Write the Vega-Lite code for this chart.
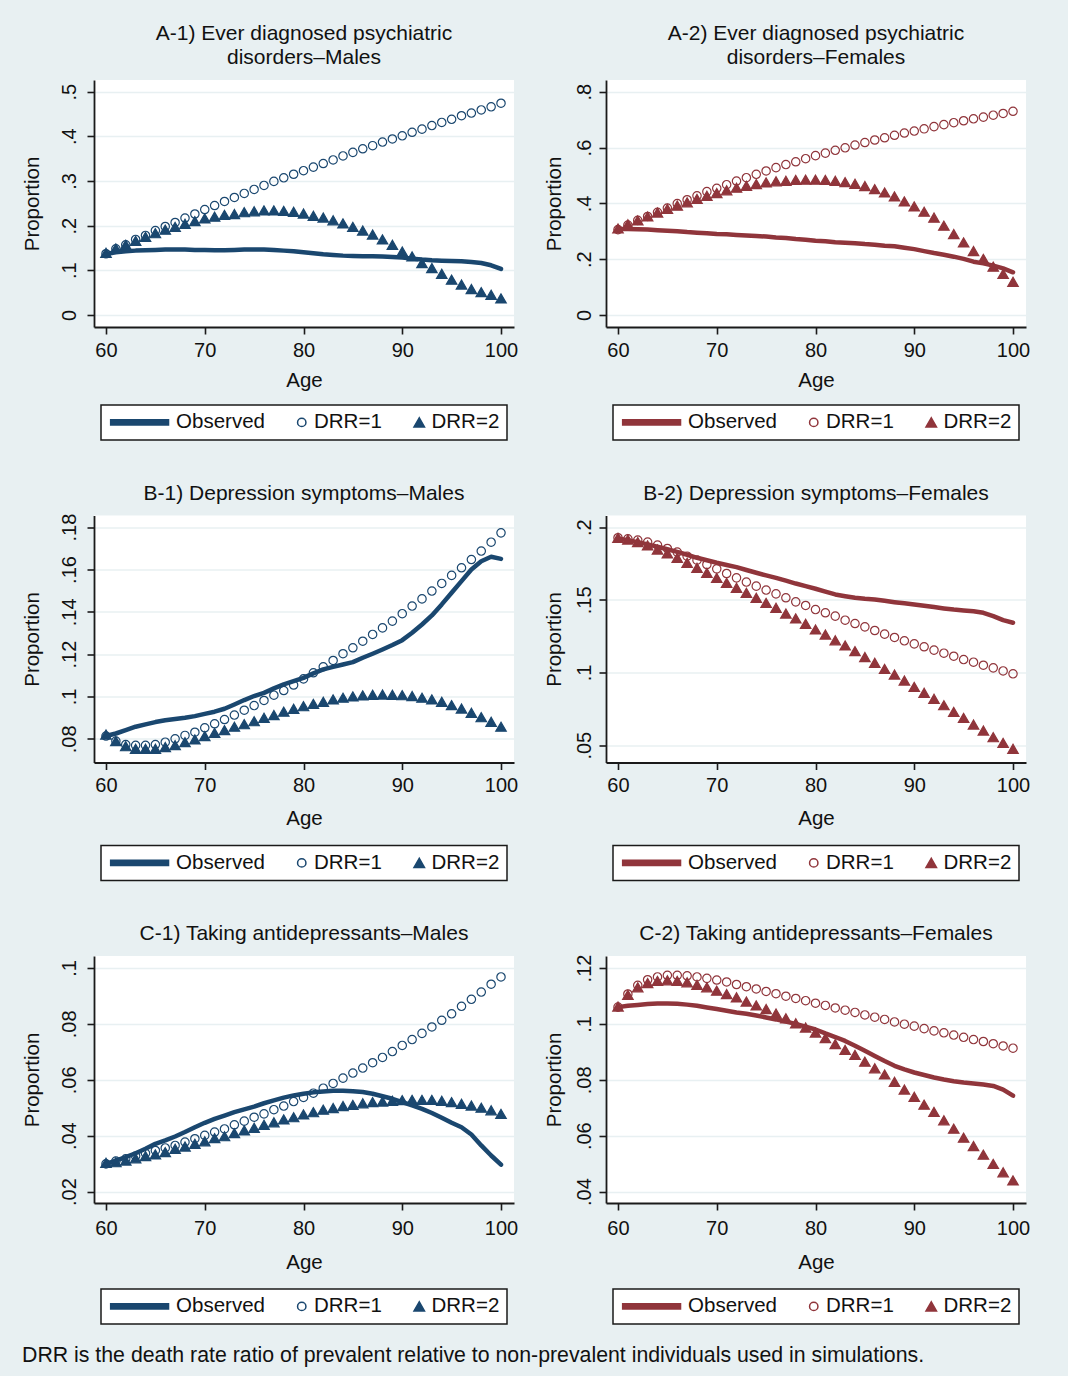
{
"$schema": "https://vega.github.io/schema/vega-lite/v6.json",
"background": "#E8F0F2",
"padding": {"left": 22, "right": 43, "top": 23, "bottom": 10},
"title": {"text": "DRR is the death rate ratio of prevalent relative to non-prevalent individuals used in simulations.", "orient": "bottom", "anchor": "start", "frame": "bounds", "fontSize": 21.3, "offset": 20},
"datasets": {
"A1": [
{"age":60,"series":"Observed","value":0.1366},{"age":61,"series":"Observed","value":0.1403},{"age":62,"series":"Observed","value":0.1425},{"age":63,"series":"Observed","value":0.1440},{"age":64,"series":"Observed","value":0.1448},{"age":65,"series":"Observed","value":0.1455},{"age":66,"series":"Observed","value":0.1463},{"age":67,"series":"Observed","value":0.1463},{"age":68,"series":"Observed","value":0.1463},{"age":69,"series":"Observed","value":0.1455},{"age":70,"series":"Observed","value":0.1455},{"age":71,"series":"Observed","value":0.1448},{"age":72,"series":"Observed","value":0.1448},{"age":73,"series":"Observed","value":0.1455},{"age":74,"series":"Observed","value":0.1463},{"age":75,"series":"Observed","value":0.1463},{"age":76,"series":"Observed","value":0.1463},{"age":77,"series":"Observed","value":0.1455},{"age":78,"series":"Observed","value":0.1440},{"age":79,"series":"Observed","value":0.1425},{"age":80,"series":"Observed","value":0.1403},{"age":81,"series":"Observed","value":0.1381},{"age":82,"series":"Observed","value":0.1358},{"age":83,"series":"Observed","value":0.1343},{"age":84,"series":"Observed","value":0.1328},{"age":85,"series":"Observed","value":0.1321},{"age":86,"series":"Observed","value":0.1313},{"age":87,"series":"Observed","value":0.1313},{"age":88,"series":"Observed","value":0.1306},{"age":89,"series":"Observed","value":0.1299},{"age":90,"series":"Observed","value":0.1284},{"age":91,"series":"Observed","value":0.1261},{"age":92,"series":"Observed","value":0.1239},{"age":93,"series":"Observed","value":0.1224},{"age":94,"series":"Observed","value":0.1216},{"age":95,"series":"Observed","value":0.1209},{"age":96,"series":"Observed","value":0.1201},{"age":97,"series":"Observed","value":0.1187},{"age":98,"series":"Observed","value":0.1164},{"age":99,"series":"Observed","value":0.1112},{"age":100,"series":"Observed","value":0.1030},
{"age":60,"series":"DRR=1","value":0.137},{"age":61,"series":"DRR=1","value":0.148},{"age":62,"series":"DRR=1","value":0.157},{"age":63,"series":"DRR=1","value":0.169},{"age":64,"series":"DRR=1","value":0.178},{"age":65,"series":"DRR=1","value":0.189},{"age":66,"series":"DRR=1","value":0.198},{"age":67,"series":"DRR=1","value":0.207},{"age":68,"series":"DRR=1","value":0.217},{"age":69,"series":"DRR=1","value":0.226},{"age":70,"series":"DRR=1","value":0.236},{"age":71,"series":"DRR=1","value":0.245},{"age":72,"series":"DRR=1","value":0.254},{"age":73,"series":"DRR=1","value":0.263},{"age":74,"series":"DRR=1","value":0.272},{"age":75,"series":"DRR=1","value":0.281},{"age":76,"series":"DRR=1","value":0.290},{"age":77,"series":"DRR=1","value":0.299},{"age":78,"series":"DRR=1","value":0.307},{"age":79,"series":"DRR=1","value":0.315},{"age":80,"series":"DRR=1","value":0.323},{"age":81,"series":"DRR=1","value":0.331},{"age":82,"series":"DRR=1","value":0.339},{"age":83,"series":"DRR=1","value":0.347},{"age":84,"series":"DRR=1","value":0.356},{"age":85,"series":"DRR=1","value":0.364},{"age":86,"series":"DRR=1","value":0.372},{"age":87,"series":"DRR=1","value":0.379},{"age":88,"series":"DRR=1","value":0.387},{"age":89,"series":"DRR=1","value":0.394},{"age":90,"series":"DRR=1","value":0.401},{"age":91,"series":"DRR=1","value":0.409},{"age":92,"series":"DRR=1","value":0.416},{"age":93,"series":"DRR=1","value":0.424},{"age":94,"series":"DRR=1","value":0.431},{"age":95,"series":"DRR=1","value":0.438},{"age":96,"series":"DRR=1","value":0.446},{"age":97,"series":"DRR=1","value":0.452},{"age":98,"series":"DRR=1","value":0.459},{"age":99,"series":"DRR=1","value":0.466},{"age":100,"series":"DRR=1","value":0.474},
{"age":60,"series":"DRR=2","value":0.139},{"age":61,"series":"DRR=2","value":0.149},{"age":62,"series":"DRR=2","value":0.157},{"age":63,"series":"DRR=2","value":0.166},{"age":64,"series":"DRR=2","value":0.175},{"age":65,"series":"DRR=2","value":0.183},{"age":66,"series":"DRR=2","value":0.191},{"age":67,"series":"DRR=2","value":0.197},{"age":68,"series":"DRR=2","value":0.204},{"age":69,"series":"DRR=2","value":0.210},{"age":70,"series":"DRR=2","value":0.216},{"age":71,"series":"DRR=2","value":0.220},{"age":72,"series":"DRR=2","value":0.224},{"age":73,"series":"DRR=2","value":0.226},{"age":74,"series":"DRR=2","value":0.230},{"age":75,"series":"DRR=2","value":0.232},{"age":76,"series":"DRR=2","value":0.234},{"age":77,"series":"DRR=2","value":0.234},{"age":78,"series":"DRR=2","value":0.233},{"age":79,"series":"DRR=2","value":0.231},{"age":80,"series":"DRR=2","value":0.227},{"age":81,"series":"DRR=2","value":0.222},{"age":82,"series":"DRR=2","value":0.218},{"age":83,"series":"DRR=2","value":0.212},{"age":84,"series":"DRR=2","value":0.205},{"age":85,"series":"DRR=2","value":0.197},{"age":86,"series":"DRR=2","value":0.189},{"age":87,"series":"DRR=2","value":0.180},{"age":88,"series":"DRR=2","value":0.169},{"age":89,"series":"DRR=2","value":0.157},{"age":90,"series":"DRR=2","value":0.142},{"age":91,"series":"DRR=2","value":0.131},{"age":92,"series":"DRR=2","value":0.116},{"age":93,"series":"DRR=2","value":0.105},{"age":94,"series":"DRR=2","value":0.092},{"age":95,"series":"DRR=2","value":0.079},{"age":96,"series":"DRR=2","value":0.068},{"age":97,"series":"DRR=2","value":0.058},{"age":98,"series":"DRR=2","value":0.051},{"age":99,"series":"DRR=2","value":0.045},{"age":100,"series":"DRR=2","value":0.037}
],
"A2": [
{"age":60,"series":"Observed","value":0.308},{"age":61,"series":"Observed","value":0.308},{"age":62,"series":"Observed","value":0.307},{"age":63,"series":"Observed","value":0.306},{"age":64,"series":"Observed","value":0.304},{"age":65,"series":"Observed","value":0.302},{"age":66,"series":"Observed","value":0.300},{"age":67,"series":"Observed","value":0.297},{"age":68,"series":"Observed","value":0.295},{"age":69,"series":"Observed","value":0.293},{"age":70,"series":"Observed","value":0.290},{"age":71,"series":"Observed","value":0.289},{"age":72,"series":"Observed","value":0.287},{"age":73,"series":"Observed","value":0.285},{"age":74,"series":"Observed","value":0.283},{"age":75,"series":"Observed","value":0.281},{"age":76,"series":"Observed","value":0.278},{"age":77,"series":"Observed","value":0.276},{"age":78,"series":"Observed","value":0.272},{"age":79,"series":"Observed","value":0.270},{"age":80,"series":"Observed","value":0.266},{"age":81,"series":"Observed","value":0.264},{"age":82,"series":"Observed","value":0.261},{"age":83,"series":"Observed","value":0.259},{"age":84,"series":"Observed","value":0.257},{"age":85,"series":"Observed","value":0.254},{"age":86,"series":"Observed","value":0.252},{"age":87,"series":"Observed","value":0.248},{"age":88,"series":"Observed","value":0.246},{"age":89,"series":"Observed","value":0.241},{"age":90,"series":"Observed","value":0.236},{"age":91,"series":"Observed","value":0.229},{"age":92,"series":"Observed","value":0.222},{"age":93,"series":"Observed","value":0.216},{"age":94,"series":"Observed","value":0.209},{"age":95,"series":"Observed","value":0.201},{"age":96,"series":"Observed","value":0.191},{"age":97,"series":"Observed","value":0.185},{"age":98,"series":"Observed","value":0.177},{"age":99,"series":"Observed","value":0.167},{"age":100,"series":"Observed","value":0.153},
{"age":60,"series":"DRR=1","value":0.306},{"age":61,"series":"DRR=1","value":0.322},{"age":62,"series":"DRR=1","value":0.339},{"age":63,"series":"DRR=1","value":0.353},{"age":64,"series":"DRR=1","value":0.368},{"age":65,"series":"DRR=1","value":0.383},{"age":66,"series":"DRR=1","value":0.399},{"age":67,"series":"DRR=1","value":0.413},{"age":68,"series":"DRR=1","value":0.427},{"age":69,"series":"DRR=1","value":0.442},{"age":70,"series":"DRR=1","value":0.454},{"age":71,"series":"DRR=1","value":0.467},{"age":72,"series":"DRR=1","value":0.480},{"age":73,"series":"DRR=1","value":0.492},{"age":74,"series":"DRR=1","value":0.504},{"age":75,"series":"DRR=1","value":0.516},{"age":76,"series":"DRR=1","value":0.528},{"age":77,"series":"DRR=1","value":0.539},{"age":78,"series":"DRR=1","value":0.549},{"age":79,"series":"DRR=1","value":0.560},{"age":80,"series":"DRR=1","value":0.571},{"age":81,"series":"DRR=1","value":0.580},{"age":82,"series":"DRR=1","value":0.590},{"age":83,"series":"DRR=1","value":0.599},{"age":84,"series":"DRR=1","value":0.609},{"age":85,"series":"DRR=1","value":0.618},{"age":86,"series":"DRR=1","value":0.627},{"age":87,"series":"DRR=1","value":0.635},{"age":88,"series":"DRR=1","value":0.644},{"age":89,"series":"DRR=1","value":0.652},{"age":90,"series":"DRR=1","value":0.659},{"age":91,"series":"DRR=1","value":0.667},{"age":92,"series":"DRR=1","value":0.675},{"age":93,"series":"DRR=1","value":0.682},{"age":94,"series":"DRR=1","value":0.689},{"age":95,"series":"DRR=1","value":0.696},{"age":96,"series":"DRR=1","value":0.703},{"age":97,"series":"DRR=1","value":0.709},{"age":98,"series":"DRR=1","value":0.716},{"age":99,"series":"DRR=1","value":0.722},{"age":100,"series":"DRR=1","value":0.730},
{"age":60,"series":"DRR=2","value":0.310},{"age":61,"series":"DRR=2","value":0.325},{"age":62,"series":"DRR=2","value":0.339},{"age":63,"series":"DRR=2","value":0.353},{"age":64,"series":"DRR=2","value":0.367},{"age":65,"series":"DRR=2","value":0.380},{"age":66,"series":"DRR=2","value":0.392},{"age":67,"series":"DRR=2","value":0.404},{"age":68,"series":"DRR=2","value":0.416},{"age":69,"series":"DRR=2","value":0.427},{"age":70,"series":"DRR=2","value":0.437},{"age":71,"series":"DRR=2","value":0.447},{"age":72,"series":"DRR=2","value":0.456},{"age":73,"series":"DRR=2","value":0.463},{"age":74,"series":"DRR=2","value":0.469},{"age":75,"series":"DRR=2","value":0.475},{"age":76,"series":"DRR=2","value":0.479},{"age":77,"series":"DRR=2","value":0.481},{"age":78,"series":"DRR=2","value":0.484},{"age":79,"series":"DRR=2","value":0.485},{"age":80,"series":"DRR=2","value":0.485},{"age":81,"series":"DRR=2","value":0.484},{"age":82,"series":"DRR=2","value":0.481},{"age":83,"series":"DRR=2","value":0.476},{"age":84,"series":"DRR=2","value":0.470},{"age":85,"series":"DRR=2","value":0.462},{"age":86,"series":"DRR=2","value":0.451},{"age":87,"series":"DRR=2","value":0.439},{"age":88,"series":"DRR=2","value":0.425},{"age":89,"series":"DRR=2","value":0.407},{"age":90,"series":"DRR=2","value":0.389},{"age":91,"series":"DRR=2","value":0.370},{"age":92,"series":"DRR=2","value":0.349},{"age":93,"series":"DRR=2","value":0.320},{"age":94,"series":"DRR=2","value":0.290},{"age":95,"series":"DRR=2","value":0.260},{"age":96,"series":"DRR=2","value":0.229},{"age":97,"series":"DRR=2","value":0.201},{"age":98,"series":"DRR=2","value":0.173},{"age":99,"series":"DRR=2","value":0.147},{"age":100,"series":"DRR=2","value":0.119}
],
"B1": [
{"age":60,"series":"Observed","value":0.0813},{"age":61,"series":"Observed","value":0.0825},{"age":62,"series":"Observed","value":0.0841},{"age":63,"series":"Observed","value":0.0857},{"age":64,"series":"Observed","value":0.0868},{"age":65,"series":"Observed","value":0.0879},{"age":66,"series":"Observed","value":0.0888},{"age":67,"series":"Observed","value":0.0894},{"age":68,"series":"Observed","value":0.0899},{"age":69,"series":"Observed","value":0.0907},{"age":70,"series":"Observed","value":0.0918},{"age":71,"series":"Observed","value":0.0928},{"age":72,"series":"Observed","value":0.0942},{"age":73,"series":"Observed","value":0.0962},{"age":74,"series":"Observed","value":0.0983},{"age":75,"series":"Observed","value":0.1002},{"age":76,"series":"Observed","value":0.1017},{"age":77,"series":"Observed","value":0.1038},{"age":78,"series":"Observed","value":0.1057},{"age":79,"series":"Observed","value":0.1072},{"age":80,"series":"Observed","value":0.1088},{"age":81,"series":"Observed","value":0.1109},{"age":82,"series":"Observed","value":0.1128},{"age":83,"series":"Observed","value":0.1140},{"age":84,"series":"Observed","value":0.1151},{"age":85,"series":"Observed","value":0.1162},{"age":86,"series":"Observed","value":0.1183},{"age":87,"series":"Observed","value":0.1202},{"age":88,"series":"Observed","value":0.1222},{"age":89,"series":"Observed","value":0.1243},{"age":90,"series":"Observed","value":0.1266},{"age":91,"series":"Observed","value":0.1301},{"age":92,"series":"Observed","value":0.1340},{"age":93,"series":"Observed","value":0.1383},{"age":94,"series":"Observed","value":0.1435},{"age":95,"series":"Observed","value":0.1490},{"age":96,"series":"Observed","value":0.1545},{"age":97,"series":"Observed","value":0.1600},{"age":98,"series":"Observed","value":0.1639},{"age":99,"series":"Observed","value":0.1660},{"age":100,"series":"Observed","value":0.1650},
{"age":60,"series":"DRR=1","value":0.0813},{"age":61,"series":"DRR=1","value":0.0789},{"age":62,"series":"DRR=1","value":0.0773},{"age":63,"series":"DRR=1","value":0.0769},{"age":64,"series":"DRR=1","value":0.0769},{"age":65,"series":"DRR=1","value":0.0773},{"age":66,"series":"DRR=1","value":0.0784},{"age":67,"series":"DRR=1","value":0.0800},{"age":68,"series":"DRR=1","value":0.0816},{"age":69,"series":"DRR=1","value":0.0831},{"age":70,"series":"DRR=1","value":0.0852},{"age":71,"series":"DRR=1","value":0.0871},{"age":72,"series":"DRR=1","value":0.0891},{"age":73,"series":"DRR=1","value":0.0912},{"age":74,"series":"DRR=1","value":0.0935},{"age":75,"series":"DRR=1","value":0.0957},{"age":76,"series":"DRR=1","value":0.0981},{"age":77,"series":"DRR=1","value":0.1006},{"age":78,"series":"DRR=1","value":0.1028},{"age":79,"series":"DRR=1","value":0.1054},{"age":80,"series":"DRR=1","value":0.1083},{"age":81,"series":"DRR=1","value":0.1112},{"age":82,"series":"DRR=1","value":0.1140},{"age":83,"series":"DRR=1","value":0.1170},{"age":84,"series":"DRR=1","value":0.1202},{"age":85,"series":"DRR=1","value":0.1230},{"age":86,"series":"DRR=1","value":0.1261},{"age":87,"series":"DRR=1","value":0.1293},{"age":88,"series":"DRR=1","value":0.1324},{"age":89,"series":"DRR=1","value":0.1356},{"age":90,"series":"DRR=1","value":0.1391},{"age":91,"series":"DRR=1","value":0.1427},{"age":92,"series":"DRR=1","value":0.1461},{"age":93,"series":"DRR=1","value":0.1498},{"age":94,"series":"DRR=1","value":0.1534},{"age":95,"series":"DRR=1","value":0.1572},{"age":96,"series":"DRR=1","value":0.1608},{"age":97,"series":"DRR=1","value":0.1647},{"age":98,"series":"DRR=1","value":0.1687},{"age":99,"series":"DRR=1","value":0.1729},{"age":100,"series":"DRR=1","value":0.1773},
{"age":60,"series":"DRR=2","value":0.0820},{"age":61,"series":"DRR=2","value":0.0789},{"age":62,"series":"DRR=2","value":0.0765},{"age":63,"series":"DRR=2","value":0.0753},{"age":64,"series":"DRR=2","value":0.0753},{"age":65,"series":"DRR=2","value":0.0753},{"age":66,"series":"DRR=2","value":0.0761},{"age":67,"series":"DRR=2","value":0.0770},{"age":68,"series":"DRR=2","value":0.0784},{"age":69,"series":"DRR=2","value":0.0797},{"age":70,"series":"DRR=2","value":0.0813},{"age":71,"series":"DRR=2","value":0.0828},{"age":72,"series":"DRR=2","value":0.0841},{"age":73,"series":"DRR=2","value":0.0857},{"age":74,"series":"DRR=2","value":0.0869},{"age":75,"series":"DRR=2","value":0.0883},{"age":76,"series":"DRR=2","value":0.0899},{"age":77,"series":"DRR=2","value":0.0912},{"age":78,"series":"DRR=2","value":0.0928},{"age":79,"series":"DRR=2","value":0.0942},{"age":80,"series":"DRR=2","value":0.0954},{"age":81,"series":"DRR=2","value":0.0965},{"age":82,"series":"DRR=2","value":0.0975},{"age":83,"series":"DRR=2","value":0.0986},{"age":84,"series":"DRR=2","value":0.0994},{"age":85,"series":"DRR=2","value":0.1000},{"age":86,"series":"DRR=2","value":0.1005},{"age":87,"series":"DRR=2","value":0.1008},{"age":88,"series":"DRR=2","value":0.1009},{"age":89,"series":"DRR=2","value":0.1008},{"age":90,"series":"DRR=2","value":0.1006},{"age":91,"series":"DRR=2","value":0.1002},{"age":92,"series":"DRR=2","value":0.0994},{"age":93,"series":"DRR=2","value":0.0986},{"age":94,"series":"DRR=2","value":0.0975},{"age":95,"series":"DRR=2","value":0.0959},{"age":96,"series":"DRR=2","value":0.0943},{"age":97,"series":"DRR=2","value":0.0923},{"age":98,"series":"DRR=2","value":0.0902},{"age":99,"series":"DRR=2","value":0.0880},{"age":100,"series":"DRR=2","value":0.0857}
],
"B2": [
{"age":60,"series":"Observed","value":0.1922},{"age":61,"series":"Observed","value":0.1910},{"age":62,"series":"Observed","value":0.1897},{"age":63,"series":"Observed","value":0.1881},{"age":64,"series":"Observed","value":0.1865},{"age":65,"series":"Observed","value":0.1848},{"age":66,"series":"Observed","value":0.1830},{"age":67,"series":"Observed","value":0.1810},{"age":68,"series":"Observed","value":0.1789},{"age":69,"series":"Observed","value":0.1772},{"age":70,"series":"Observed","value":0.1755},{"age":71,"series":"Observed","value":0.1740},{"age":72,"series":"Observed","value":0.1725},{"age":73,"series":"Observed","value":0.1705},{"age":74,"series":"Observed","value":0.1686},{"age":75,"series":"Observed","value":0.1668},{"age":76,"series":"Observed","value":0.1651},{"age":77,"series":"Observed","value":0.1632},{"age":78,"series":"Observed","value":0.1612},{"age":79,"series":"Observed","value":0.1594},{"age":80,"series":"Observed","value":0.1576},{"age":81,"series":"Observed","value":0.1556},{"age":82,"series":"Observed","value":0.1537},{"age":83,"series":"Observed","value":0.1525},{"age":84,"series":"Observed","value":0.1514},{"age":85,"series":"Observed","value":0.1507},{"age":86,"series":"Observed","value":0.1502},{"age":87,"series":"Observed","value":0.1493},{"age":88,"series":"Observed","value":0.1484},{"age":89,"series":"Observed","value":0.1476},{"age":90,"series":"Observed","value":0.1468},{"age":91,"series":"Observed","value":0.1459},{"age":92,"series":"Observed","value":0.1450},{"age":93,"series":"Observed","value":0.1441},{"age":94,"series":"Observed","value":0.1433},{"age":95,"series":"Observed","value":0.1427},{"age":96,"series":"Observed","value":0.1422},{"age":97,"series":"Observed","value":0.1411},{"age":98,"series":"Observed","value":0.1388},{"age":99,"series":"Observed","value":0.1360},{"age":100,"series":"Observed","value":0.1342},
{"age":60,"series":"DRR=1","value":0.1927},{"age":61,"series":"DRR=1","value":0.1920},{"age":62,"series":"DRR=1","value":0.1911},{"age":63,"series":"DRR=1","value":0.1897},{"age":64,"series":"DRR=1","value":0.1876},{"age":65,"series":"DRR=1","value":0.1853},{"age":66,"series":"DRR=1","value":0.1828},{"age":67,"series":"DRR=1","value":0.1800},{"age":68,"series":"DRR=1","value":0.1773},{"age":69,"series":"DRR=1","value":0.1743},{"age":70,"series":"DRR=1","value":0.1713},{"age":71,"series":"DRR=1","value":0.1681},{"age":72,"series":"DRR=1","value":0.1651},{"age":73,"series":"DRR=1","value":0.1622},{"age":74,"series":"DRR=1","value":0.1594},{"age":75,"series":"DRR=1","value":0.1567},{"age":76,"series":"DRR=1","value":0.1541},{"age":77,"series":"DRR=1","value":0.1514},{"age":78,"series":"DRR=1","value":0.1486},{"age":79,"series":"DRR=1","value":0.1461},{"age":80,"series":"DRR=1","value":0.1433},{"age":81,"series":"DRR=1","value":0.1411},{"age":82,"series":"DRR=1","value":0.1388},{"age":83,"series":"DRR=1","value":0.1360},{"age":84,"series":"DRR=1","value":0.1337},{"age":85,"series":"DRR=1","value":0.1314},{"age":86,"series":"DRR=1","value":0.1289},{"age":87,"series":"DRR=1","value":0.1264},{"age":88,"series":"DRR=1","value":0.1241},{"age":89,"series":"DRR=1","value":0.1218},{"age":90,"series":"DRR=1","value":0.1197},{"age":91,"series":"DRR=1","value":0.1177},{"age":92,"series":"DRR=1","value":0.1154},{"age":93,"series":"DRR=1","value":0.1133},{"age":94,"series":"DRR=1","value":0.1112},{"age":95,"series":"DRR=1","value":0.1089},{"age":96,"series":"DRR=1","value":0.1071},{"age":97,"series":"DRR=1","value":0.1050},{"age":98,"series":"DRR=1","value":0.1032},{"age":99,"series":"DRR=1","value":0.1011},{"age":100,"series":"DRR=1","value":0.0991},
{"age":60,"series":"DRR=2","value":0.1927},{"age":61,"series":"DRR=2","value":0.1915},{"age":62,"series":"DRR=2","value":0.1897},{"age":63,"series":"DRR=2","value":0.1874},{"age":64,"series":"DRR=2","value":0.1846},{"age":65,"series":"DRR=2","value":0.1819},{"age":66,"series":"DRR=2","value":0.1789},{"age":67,"series":"DRR=2","value":0.1755},{"age":68,"series":"DRR=2","value":0.1720},{"age":69,"series":"DRR=2","value":0.1686},{"age":70,"series":"DRR=2","value":0.1651},{"age":71,"series":"DRR=2","value":0.1617},{"age":72,"series":"DRR=2","value":0.1583},{"age":73,"series":"DRR=2","value":0.1548},{"age":74,"series":"DRR=2","value":0.1514},{"age":75,"series":"DRR=2","value":0.1479},{"age":76,"series":"DRR=2","value":0.1445},{"age":77,"series":"DRR=2","value":0.1406},{"age":78,"series":"DRR=2","value":0.1372},{"age":79,"series":"DRR=2","value":0.1335},{"age":80,"series":"DRR=2","value":0.1296},{"age":81,"series":"DRR=2","value":0.1261},{"age":82,"series":"DRR=2","value":0.1222},{"age":83,"series":"DRR=2","value":0.1186},{"age":84,"series":"DRR=2","value":0.1147},{"age":85,"series":"DRR=2","value":0.1106},{"age":86,"series":"DRR=2","value":0.1067},{"age":87,"series":"DRR=2","value":0.1025},{"age":88,"series":"DRR=2","value":0.0986},{"age":89,"series":"DRR=2","value":0.0945},{"age":90,"series":"DRR=2","value":0.0901},{"age":91,"series":"DRR=2","value":0.0860},{"age":92,"series":"DRR=2","value":0.0819},{"age":93,"series":"DRR=2","value":0.0775},{"age":94,"series":"DRR=2","value":0.0729},{"age":95,"series":"DRR=2","value":0.0688},{"age":96,"series":"DRR=2","value":0.0642},{"age":97,"series":"DRR=2","value":0.0601},{"age":98,"series":"DRR=2","value":0.0555},{"age":99,"series":"DRR=2","value":0.0516},{"age":100,"series":"DRR=2","value":0.0475}
],
"C1": [
{"age":60,"series":"Observed","value":0.0299},{"age":61,"series":"Observed","value":0.0311},{"age":62,"series":"Observed","value":0.0323},{"age":63,"series":"Observed","value":0.0337},{"age":64,"series":"Observed","value":0.0353},{"age":65,"series":"Observed","value":0.0371},{"age":66,"series":"Observed","value":0.0383},{"age":67,"series":"Observed","value":0.0397},{"age":68,"series":"Observed","value":0.0413},{"age":69,"series":"Observed","value":0.0430},{"age":70,"series":"Observed","value":0.0446},{"age":71,"series":"Observed","value":0.0460},{"age":72,"series":"Observed","value":0.0472},{"age":73,"series":"Observed","value":0.0484},{"age":74,"series":"Observed","value":0.0494},{"age":75,"series":"Observed","value":0.0504},{"age":76,"series":"Observed","value":0.0516},{"age":77,"series":"Observed","value":0.0526},{"age":78,"series":"Observed","value":0.0536},{"age":79,"series":"Observed","value":0.0544},{"age":80,"series":"Observed","value":0.0550},{"age":81,"series":"Observed","value":0.0555},{"age":82,"series":"Observed","value":0.0558},{"age":83,"series":"Observed","value":0.0561},{"age":84,"series":"Observed","value":0.0561},{"age":85,"series":"Observed","value":0.0559},{"age":86,"series":"Observed","value":0.0556},{"age":87,"series":"Observed","value":0.0550},{"age":88,"series":"Observed","value":0.0541},{"age":89,"series":"Observed","value":0.0532},{"age":90,"series":"Observed","value":0.0520},{"age":91,"series":"Observed","value":0.0508},{"age":92,"series":"Observed","value":0.0496},{"age":93,"series":"Observed","value":0.0481},{"age":94,"series":"Observed","value":0.0464},{"age":95,"series":"Observed","value":0.0446},{"age":96,"series":"Observed","value":0.0430},{"age":97,"series":"Observed","value":0.0404},{"age":98,"series":"Observed","value":0.0365},{"age":99,"series":"Observed","value":0.0329},{"age":100,"series":"Observed","value":0.0296},
{"age":60,"series":"DRR=1","value":0.0299},{"age":61,"series":"DRR=1","value":0.0309},{"age":62,"series":"DRR=1","value":0.0317},{"age":63,"series":"DRR=1","value":0.0327},{"age":64,"series":"DRR=1","value":0.0337},{"age":65,"series":"DRR=1","value":0.0347},{"age":66,"series":"DRR=1","value":0.0356},{"age":67,"series":"DRR=1","value":0.0365},{"age":68,"series":"DRR=1","value":0.0377},{"age":69,"series":"DRR=1","value":0.0389},{"age":70,"series":"DRR=1","value":0.0401},{"age":71,"series":"DRR=1","value":0.0413},{"age":72,"series":"DRR=1","value":0.0424},{"age":73,"series":"DRR=1","value":0.0439},{"age":74,"series":"DRR=1","value":0.0452},{"age":75,"series":"DRR=1","value":0.0466},{"age":76,"series":"DRR=1","value":0.0478},{"age":77,"series":"DRR=1","value":0.0493},{"age":78,"series":"DRR=1","value":0.0506},{"age":79,"series":"DRR=1","value":0.0522},{"age":80,"series":"DRR=1","value":0.0537},{"age":81,"series":"DRR=1","value":0.0552},{"age":82,"series":"DRR=1","value":0.0570},{"age":83,"series":"DRR=1","value":0.0587},{"age":84,"series":"DRR=1","value":0.0606},{"age":85,"series":"DRR=1","value":0.0624},{"age":86,"series":"DRR=1","value":0.0642},{"age":87,"series":"DRR=1","value":0.0661},{"age":88,"series":"DRR=1","value":0.0680},{"age":89,"series":"DRR=1","value":0.0701},{"age":90,"series":"DRR=1","value":0.0723},{"age":91,"series":"DRR=1","value":0.0744},{"age":92,"series":"DRR=1","value":0.0766},{"age":93,"series":"DRR=1","value":0.0789},{"age":94,"series":"DRR=1","value":0.0813},{"age":95,"series":"DRR=1","value":0.0836},{"age":96,"series":"DRR=1","value":0.0863},{"age":97,"series":"DRR=1","value":0.0888},{"age":98,"series":"DRR=1","value":0.0914},{"age":99,"series":"DRR=1","value":0.0942},{"age":100,"series":"DRR=1","value":0.0968},
{"age":60,"series":"DRR=2","value":0.0303},{"age":61,"series":"DRR=2","value":0.0305},{"age":62,"series":"DRR=2","value":0.0311},{"age":63,"series":"DRR=2","value":0.0319},{"age":64,"series":"DRR=2","value":0.0327},{"age":65,"series":"DRR=2","value":0.0333},{"age":66,"series":"DRR=2","value":0.0341},{"age":67,"series":"DRR=2","value":0.0353},{"age":68,"series":"DRR=2","value":0.0361},{"age":69,"series":"DRR=2","value":0.0371},{"age":70,"series":"DRR=2","value":0.0380},{"age":71,"series":"DRR=2","value":0.0391},{"age":72,"series":"DRR=2","value":0.0398},{"age":73,"series":"DRR=2","value":0.0409},{"age":74,"series":"DRR=2","value":0.0419},{"age":75,"series":"DRR=2","value":0.0428},{"age":76,"series":"DRR=2","value":0.0439},{"age":77,"series":"DRR=2","value":0.0448},{"age":78,"series":"DRR=2","value":0.0458},{"age":79,"series":"DRR=2","value":0.0466},{"age":80,"series":"DRR=2","value":0.0476},{"age":81,"series":"DRR=2","value":0.0484},{"age":82,"series":"DRR=2","value":0.0493},{"age":83,"series":"DRR=2","value":0.0499},{"age":84,"series":"DRR=2","value":0.0506},{"age":85,"series":"DRR=2","value":0.0510},{"age":86,"series":"DRR=2","value":0.0516},{"age":87,"series":"DRR=2","value":0.0520},{"age":88,"series":"DRR=2","value":0.0522},{"age":89,"series":"DRR=2","value":0.0525},{"age":90,"series":"DRR=2","value":0.0527},{"age":91,"series":"DRR=2","value":0.0528},{"age":92,"series":"DRR=2","value":0.0528},{"age":93,"series":"DRR=2","value":0.0528},{"age":94,"series":"DRR=2","value":0.0525},{"age":95,"series":"DRR=2","value":0.0520},{"age":96,"series":"DRR=2","value":0.0514},{"age":97,"series":"DRR=2","value":0.0508},{"age":98,"series":"DRR=2","value":0.0500},{"age":99,"series":"DRR=2","value":0.0491},{"age":100,"series":"DRR=2","value":0.0478}
],
"C2": [
{"age":60,"series":"Observed","value":0.1060},{"age":61,"series":"Observed","value":0.1065},{"age":62,"series":"Observed","value":0.1068},{"age":63,"series":"Observed","value":0.1071},{"age":64,"series":"Observed","value":0.1073},{"age":65,"series":"Observed","value":0.1073},{"age":66,"series":"Observed","value":0.1072},{"age":67,"series":"Observed","value":0.1069},{"age":68,"series":"Observed","value":0.1065},{"age":69,"series":"Observed","value":0.1059},{"age":70,"series":"Observed","value":0.1053},{"age":71,"series":"Observed","value":0.1047},{"age":72,"series":"Observed","value":0.1041},{"age":73,"series":"Observed","value":0.1036},{"age":74,"series":"Observed","value":0.1030},{"age":75,"series":"Observed","value":0.1023},{"age":76,"series":"Observed","value":0.1016},{"age":77,"series":"Observed","value":0.1008},{"age":78,"series":"Observed","value":0.1000},{"age":79,"series":"Observed","value":0.0990},{"age":80,"series":"Observed","value":0.0980},{"age":81,"series":"Observed","value":0.0966},{"age":82,"series":"Observed","value":0.0953},{"age":83,"series":"Observed","value":0.0939},{"age":84,"series":"Observed","value":0.0922},{"age":85,"series":"Observed","value":0.0904},{"age":86,"series":"Observed","value":0.0885},{"age":87,"series":"Observed","value":0.0867},{"age":88,"series":"Observed","value":0.0850},{"age":89,"series":"Observed","value":0.0837},{"age":90,"series":"Observed","value":0.0826},{"age":91,"series":"Observed","value":0.0817},{"age":92,"series":"Observed","value":0.0808},{"age":93,"series":"Observed","value":0.0801},{"age":94,"series":"Observed","value":0.0795},{"age":95,"series":"Observed","value":0.0790},{"age":96,"series":"Observed","value":0.0787},{"age":97,"series":"Observed","value":0.0783},{"age":98,"series":"Observed","value":0.0778},{"age":99,"series":"Observed","value":0.0765},{"age":100,"series":"Observed","value":0.0743},
{"age":60,"series":"DRR=1","value":0.1060},{"age":61,"series":"DRR=1","value":0.1107},{"age":62,"series":"DRR=1","value":0.1138},{"age":63,"series":"DRR=1","value":0.1158},{"age":64,"series":"DRR=1","value":0.1168},{"age":65,"series":"DRR=1","value":0.1174},{"age":66,"series":"DRR=1","value":0.1174},{"age":67,"series":"DRR=1","value":0.1172},{"age":68,"series":"DRR=1","value":0.1168},{"age":69,"series":"DRR=1","value":0.1163},{"age":70,"series":"DRR=1","value":0.1157},{"age":71,"series":"DRR=1","value":0.1150},{"age":72,"series":"DRR=1","value":0.1141},{"age":73,"series":"DRR=1","value":0.1133},{"age":74,"series":"DRR=1","value":0.1125},{"age":75,"series":"DRR=1","value":0.1116},{"age":76,"series":"DRR=1","value":0.1108},{"age":77,"series":"DRR=1","value":0.1099},{"age":78,"series":"DRR=1","value":0.1091},{"age":79,"series":"DRR=1","value":0.1083},{"age":80,"series":"DRR=1","value":0.1074},{"age":81,"series":"DRR=1","value":0.1066},{"age":82,"series":"DRR=1","value":0.1057},{"age":83,"series":"DRR=1","value":0.1049},{"age":84,"series":"DRR=1","value":0.1041},{"age":85,"series":"DRR=1","value":0.1032},{"age":86,"series":"DRR=1","value":0.1024},{"age":87,"series":"DRR=1","value":0.1016},{"age":88,"series":"DRR=1","value":0.1007},{"age":89,"series":"DRR=1","value":0.0999},{"age":90,"series":"DRR=1","value":0.0992},{"age":91,"series":"DRR=1","value":0.0983},{"age":92,"series":"DRR=1","value":0.0975},{"age":93,"series":"DRR=1","value":0.0968},{"age":94,"series":"DRR=1","value":0.0960},{"age":95,"series":"DRR=1","value":0.0952},{"age":96,"series":"DRR=1","value":0.0944},{"age":97,"series":"DRR=1","value":0.0937},{"age":98,"series":"DRR=1","value":0.0929},{"age":99,"series":"DRR=1","value":0.0921},{"age":100,"series":"DRR=1","value":0.0913},
{"age":60,"series":"DRR=2","value":0.1062},{"age":61,"series":"DRR=2","value":0.1104},{"age":62,"series":"DRR=2","value":0.1131},{"age":63,"series":"DRR=2","value":0.1146},{"age":64,"series":"DRR=2","value":0.1154},{"age":65,"series":"DRR=2","value":0.1156},{"age":66,"series":"DRR=2","value":0.1154},{"age":67,"series":"DRR=2","value":0.1149},{"age":68,"series":"DRR=2","value":0.1140},{"age":69,"series":"DRR=2","value":0.1131},{"age":70,"series":"DRR=2","value":0.1119},{"age":71,"series":"DRR=2","value":0.1107},{"age":72,"series":"DRR=2","value":0.1095},{"age":73,"series":"DRR=2","value":0.1080},{"age":74,"series":"DRR=2","value":0.1066},{"age":75,"series":"DRR=2","value":0.1053},{"age":76,"series":"DRR=2","value":0.1037},{"age":77,"series":"DRR=2","value":0.1020},{"age":78,"series":"DRR=2","value":0.1002},{"age":79,"series":"DRR=2","value":0.0987},{"age":80,"series":"DRR=2","value":0.0969},{"age":81,"series":"DRR=2","value":0.0949},{"age":82,"series":"DRR=2","value":0.0928},{"age":83,"series":"DRR=2","value":0.0907},{"age":84,"series":"DRR=2","value":0.0889},{"age":85,"series":"DRR=2","value":0.0865},{"age":86,"series":"DRR=2","value":0.0841},{"age":87,"series":"DRR=2","value":0.0819},{"age":88,"series":"DRR=2","value":0.0793},{"age":89,"series":"DRR=2","value":0.0765},{"age":90,"series":"DRR=2","value":0.0739},{"age":91,"series":"DRR=2","value":0.0711},{"age":92,"series":"DRR=2","value":0.0685},{"age":93,"series":"DRR=2","value":0.0655},{"age":94,"series":"DRR=2","value":0.0625},{"age":95,"series":"DRR=2","value":0.0593},{"age":96,"series":"DRR=2","value":0.0563},{"age":97,"series":"DRR=2","value":0.0532},{"age":98,"series":"DRR=2","value":0.0499},{"age":99,"series":"DRR=2","value":0.0469},{"age":100,"series":"DRR=2","value":0.0440}
]
},
"spacing": 41.5,
"resolve": {"scale": {"shape": "independent", "fill": "independent", "stroke": "independent", "size": "independent"}},
"vconcat": [
{"spacing": 26,
 "resolve": {"scale": {"shape": "independent", "fill": "independent", "stroke": "independent", "size": "independent"}},
 "hconcat": [
 {"data": {"name": "A1"}, "width": 420, "height": 247,
  "title": {"text": ["A-1) Ever diagnosed psychiatric", "disorders–Males"]},
  "encoding": {
   "x": {"field": "age", "type": "quantitative", "scale": {"domain": [58.785, 101.316], "nice": false, "zero": false}, "axis": {"values": [60,70,80,90,100], "title": "Age", "labelPadding": 6, "titlePadding": 10}},
   "y": {"field": "value", "type": "quantitative", "scale": {"domain": [-0.027, 0.526], "nice": false, "zero": false}, "axis": {"values": [0,0.1,0.2,0.3,0.4,0.5], "labelExpr": "datum.value == 0 ? '0' : substring(format(datum.value, '.2~f'), 1)", "title": "Proportion", "titlePadding": 17, "labelPadding": 8}}
  },
  "layer": [
   {"transform": [{"filter": "datum.series !== 'Observed'"}],
    "mark": {"type": "point", "opacity": 1, "strokeWidth": 1.2},
    "encoding": {
     "shape": {"field": "series", "type": "nominal", "scale": {"domain": ["Observed","DRR=1","DRR=2"], "range": ["M-1.6,-0.56H10.6V0.56H-1.6Z","circle","triangle-up"]}, "legend": {"title": null, "offset": 14, "labelExpr": "datum.label == 'Observed' ? '\u200b\u00a0\u00a0\u00a0\u00a0\u00a0\u00a0\u00a0\u00a0Observed' : datum.label"}},
     "fill": {"field": "series", "type": "nominal", "scale": {"domain": ["Observed","DRR=1","DRR=2"], "range": ["#1A476F","transparent","#1A476F"]}, "legend": {"title": null, "offset": 14, "labelExpr": "datum.label == 'Observed' ? '\u200b\u00a0\u00a0\u00a0\u00a0\u00a0\u00a0\u00a0\u00a0Observed' : datum.label"}},
     "stroke": {"field": "series", "type": "nominal", "scale": {"domain": ["Observed","DRR=1","DRR=2"], "range": ["#1A476F","#1A476F","#1A476F"]}, "legend": {"title": null, "offset": 14, "labelExpr": "datum.label == 'Observed' ? '\u200b\u00a0\u00a0\u00a0\u00a0\u00a0\u00a0\u00a0\u00a0Observed' : datum.label"}},
     "size": {"field": "series", "type": "nominal", "scale": {"type": "ordinal", "domain": ["Observed","DRR=1","DRR=2"], "range": [90,70,110]}, "legend": {"title": null, "offset": 14, "labelExpr": "datum.label == 'Observed' ? '\u200b\u00a0\u00a0\u00a0\u00a0\u00a0\u00a0\u00a0\u00a0Observed' : datum.label"}}
    }},
   {"transform": [{"filter": "datum.series === 'Observed'"}],
    "mark": {"type": "line", "color": "#1A476F", "strokeWidth": 4.5, "strokeCap": "round", "strokeJoin": "round"},
    "encoding": {}}
  ]},
 {"data": {"name": "A2"}, "width": 420, "height": 247,
  "title": {"text": ["A-2) Ever diagnosed psychiatric", "disorders–Females"]},
  "encoding": {
   "x": {"field": "age", "type": "quantitative", "scale": {"domain": [58.785, 101.316], "nice": false, "zero": false}, "axis": {"values": [60,70,80,90,100], "title": "Age", "labelPadding": 6, "titlePadding": 10}},
   "y": {"field": "value", "type": "quantitative", "scale": {"domain": [-0.043, 0.842], "nice": false, "zero": false}, "axis": {"values": [0,0.2,0.4,0.6,0.8], "labelExpr": "datum.value == 0 ? '0' : substring(format(datum.value, '.2~f'), 1)", "title": "Proportion", "titlePadding": 10, "labelPadding": 5}}
  },
  "layer": [
   {"transform": [{"filter": "datum.series !== 'Observed'"}],
    "mark": {"type": "point", "opacity": 1, "strokeWidth": 1.2},
    "encoding": {
     "shape": {"field": "series", "type": "nominal", "scale": {"domain": ["Observed","DRR=1","DRR=2"], "range": ["M-1.6,-0.56H10.6V0.56H-1.6Z","circle","triangle-up"]}, "legend": {"title": null, "offset": 14, "labelExpr": "datum.label == 'Observed' ? '\u200b\u00a0\u00a0\u00a0\u00a0\u00a0\u00a0\u00a0\u00a0Observed' : datum.label"}},
     "fill": {"field": "series", "type": "nominal", "scale": {"domain": ["Observed","DRR=1","DRR=2"], "range": ["#90353B","transparent","#90353B"]}, "legend": {"title": null, "offset": 14, "labelExpr": "datum.label == 'Observed' ? '\u200b\u00a0\u00a0\u00a0\u00a0\u00a0\u00a0\u00a0\u00a0Observed' : datum.label"}},
     "stroke": {"field": "series", "type": "nominal", "scale": {"domain": ["Observed","DRR=1","DRR=2"], "range": ["#90353B","#90353B","#90353B"]}, "legend": {"title": null, "offset": 14, "labelExpr": "datum.label == 'Observed' ? '\u200b\u00a0\u00a0\u00a0\u00a0\u00a0\u00a0\u00a0\u00a0Observed' : datum.label"}},
     "size": {"field": "series", "type": "nominal", "scale": {"type": "ordinal", "domain": ["Observed","DRR=1","DRR=2"], "range": [90,70,110]}, "legend": {"title": null, "offset": 14, "labelExpr": "datum.label == 'Observed' ? '\u200b\u00a0\u00a0\u00a0\u00a0\u00a0\u00a0\u00a0\u00a0Observed' : datum.label"}}
    }},
   {"transform": [{"filter": "datum.series === 'Observed'"}],
    "mark": {"type": "line", "color": "#90353B", "strokeWidth": 4.5, "strokeCap": "round", "strokeJoin": "round"},
    "encoding": {}}
  ]}
 ]},
{"spacing": 26,
 "resolve": {"scale": {"shape": "independent", "fill": "independent", "stroke": "independent", "size": "independent"}},
 "hconcat": [
 {"data": {"name": "B1"}, "width": 420, "height": 247,
  "title": {"text": "B-1) Depression symptoms–Males", "offset": 9.7},
  "encoding": {
   "x": {"field": "age", "type": "quantitative", "scale": {"domain": [58.785, 101.316], "nice": false, "zero": false}, "axis": {"values": [60,70,80,90,100], "title": "Age", "labelPadding": 6, "titlePadding": 13}},
   "y": {"field": "value", "type": "quantitative", "scale": {"domain": [0.0688, 0.1855], "nice": false, "zero": false}, "axis": {"values": [0.08,0.1,0.12,0.14,0.16,0.18], "labelExpr": "datum.value == 0 ? '0' : substring(format(datum.value, '.2~f'), 1)", "title": "Proportion", "titlePadding": 17, "labelPadding": 8}}
  },
  "layer": [
   {"transform": [{"filter": "datum.series !== 'Observed'"}],
    "mark": {"type": "point", "opacity": 1, "strokeWidth": 1.2},
    "encoding": {
     "shape": {"field": "series", "type": "nominal", "scale": {"domain": ["Observed","DRR=1","DRR=2"], "range": ["M-1.6,-0.56H10.6V0.56H-1.6Z","circle","triangle-up"]}, "legend": {"title": null, "offset": 16, "labelExpr": "datum.label == 'Observed' ? '\u200b\u00a0\u00a0\u00a0\u00a0\u00a0\u00a0\u00a0\u00a0Observed' : datum.label"}},
     "fill": {"field": "series", "type": "nominal", "scale": {"domain": ["Observed","DRR=1","DRR=2"], "range": ["#1A476F","transparent","#1A476F"]}, "legend": {"title": null, "offset": 16, "labelExpr": "datum.label == 'Observed' ? '\u200b\u00a0\u00a0\u00a0\u00a0\u00a0\u00a0\u00a0\u00a0Observed' : datum.label"}},
     "stroke": {"field": "series", "type": "nominal", "scale": {"domain": ["Observed","DRR=1","DRR=2"], "range": ["#1A476F","#1A476F","#1A476F"]}, "legend": {"title": null, "offset": 16, "labelExpr": "datum.label == 'Observed' ? '\u200b\u00a0\u00a0\u00a0\u00a0\u00a0\u00a0\u00a0\u00a0Observed' : datum.label"}},
     "size": {"field": "series", "type": "nominal", "scale": {"type": "ordinal", "domain": ["Observed","DRR=1","DRR=2"], "range": [90,70,110]}, "legend": {"title": null, "offset": 16, "labelExpr": "datum.label == 'Observed' ? '\u200b\u00a0\u00a0\u00a0\u00a0\u00a0\u00a0\u00a0\u00a0Observed' : datum.label"}}
    }},
   {"transform": [{"filter": "datum.series === 'Observed'"}],
    "mark": {"type": "line", "color": "#1A476F", "strokeWidth": 4.5, "strokeCap": "round", "strokeJoin": "round"},
    "encoding": {}}
  ]},
 {"data": {"name": "B2"}, "width": 420, "height": 247,
  "title": {"text": "B-2) Depression symptoms–Females"},
  "encoding": {
   "x": {"field": "age", "type": "quantitative", "scale": {"domain": [58.785, 101.316], "nice": false, "zero": false}, "axis": {"values": [60,70,80,90,100], "title": "Age", "labelPadding": 6, "titlePadding": 13}},
   "y": {"field": "value", "type": "quantitative", "scale": {"domain": [0.0381, 0.208], "nice": false, "zero": false}, "axis": {"values": [0.05,0.1,0.15,0.2], "labelExpr": "datum.value == 0 ? '0' : substring(format(datum.value, '.2~f'), 1)", "title": "Proportion", "titlePadding": 10, "labelPadding": 5}}
  },
  "layer": [
   {"transform": [{"filter": "datum.series !== 'Observed'"}],
    "mark": {"type": "point", "opacity": 1, "strokeWidth": 1.2},
    "encoding": {
     "shape": {"field": "series", "type": "nominal", "scale": {"domain": ["Observed","DRR=1","DRR=2"], "range": ["M-1.6,-0.56H10.6V0.56H-1.6Z","circle","triangle-up"]}, "legend": {"title": null, "offset": 16, "labelExpr": "datum.label == 'Observed' ? '\u200b\u00a0\u00a0\u00a0\u00a0\u00a0\u00a0\u00a0\u00a0Observed' : datum.label"}},
     "fill": {"field": "series", "type": "nominal", "scale": {"domain": ["Observed","DRR=1","DRR=2"], "range": ["#90353B","transparent","#90353B"]}, "legend": {"title": null, "offset": 16, "labelExpr": "datum.label == 'Observed' ? '\u200b\u00a0\u00a0\u00a0\u00a0\u00a0\u00a0\u00a0\u00a0Observed' : datum.label"}},
     "stroke": {"field": "series", "type": "nominal", "scale": {"domain": ["Observed","DRR=1","DRR=2"], "range": ["#90353B","#90353B","#90353B"]}, "legend": {"title": null, "offset": 16, "labelExpr": "datum.label == 'Observed' ? '\u200b\u00a0\u00a0\u00a0\u00a0\u00a0\u00a0\u00a0\u00a0Observed' : datum.label"}},
     "size": {"field": "series", "type": "nominal", "scale": {"type": "ordinal", "domain": ["Observed","DRR=1","DRR=2"], "range": [90,70,110]}, "legend": {"title": null, "offset": 16, "labelExpr": "datum.label == 'Observed' ? '\u200b\u00a0\u00a0\u00a0\u00a0\u00a0\u00a0\u00a0\u00a0Observed' : datum.label"}}
    }},
   {"transform": [{"filter": "datum.series === 'Observed'"}],
    "mark": {"type": "line", "color": "#90353B", "strokeWidth": 4.5, "strokeCap": "round", "strokeJoin": "round"},
    "encoding": {}}
  ]}
 ]},
{"spacing": 26,
 "resolve": {"scale": {"shape": "independent", "fill": "independent", "stroke": "independent", "size": "independent"}},
 "hconcat": [
 {"data": {"name": "C1"}, "width": 420, "height": 247,
  "title": {"text": "C-1) Taking antidepressants–Males"},
  "encoding": {
   "x": {"field": "age", "type": "quantitative", "scale": {"domain": [58.785, 101.316], "nice": false, "zero": false}, "axis": {"values": [60,70,80,90,100], "title": "Age", "labelPadding": 8, "titlePadding": 14}},
   "y": {"field": "value", "type": "quantitative", "scale": {"domain": [0.0159, 0.1043], "nice": false, "zero": false}, "axis": {"values": [0.02,0.04,0.06,0.08,0.1], "labelExpr": "datum.value == 0 ? '0' : substring(format(datum.value, '.2~f'), 1)", "title": "Proportion", "titlePadding": 17, "labelPadding": 8}}
  },
  "layer": [
   {"transform": [{"filter": "datum.series !== 'Observed'"}],
    "mark": {"type": "point", "opacity": 1, "strokeWidth": 1.2},
    "encoding": {
     "shape": {"field": "series", "type": "nominal", "scale": {"domain": ["Observed","DRR=1","DRR=2"], "range": ["M-1.6,-0.56H10.6V0.56H-1.6Z","circle","triangle-up"]}, "legend": {"title": null, "offset": 16, "labelExpr": "datum.label == 'Observed' ? '\u200b\u00a0\u00a0\u00a0\u00a0\u00a0\u00a0\u00a0\u00a0Observed' : datum.label"}},
     "fill": {"field": "series", "type": "nominal", "scale": {"domain": ["Observed","DRR=1","DRR=2"], "range": ["#1A476F","transparent","#1A476F"]}, "legend": {"title": null, "offset": 16, "labelExpr": "datum.label == 'Observed' ? '\u200b\u00a0\u00a0\u00a0\u00a0\u00a0\u00a0\u00a0\u00a0Observed' : datum.label"}},
     "stroke": {"field": "series", "type": "nominal", "scale": {"domain": ["Observed","DRR=1","DRR=2"], "range": ["#1A476F","#1A476F","#1A476F"]}, "legend": {"title": null, "offset": 16, "labelExpr": "datum.label == 'Observed' ? '\u200b\u00a0\u00a0\u00a0\u00a0\u00a0\u00a0\u00a0\u00a0Observed' : datum.label"}},
     "size": {"field": "series", "type": "nominal", "scale": {"type": "ordinal", "domain": ["Observed","DRR=1","DRR=2"], "range": [90,70,110]}, "legend": {"title": null, "offset": 16, "labelExpr": "datum.label == 'Observed' ? '\u200b\u00a0\u00a0\u00a0\u00a0\u00a0\u00a0\u00a0\u00a0Observed' : datum.label"}}
    }},
   {"transform": [{"filter": "datum.series === 'Observed'"}],
    "mark": {"type": "line", "color": "#1A476F", "strokeWidth": 4.5, "strokeCap": "round", "strokeJoin": "round"},
    "encoding": {}}
  ]},
 {"data": {"name": "C2"}, "width": 420, "height": 247,
  "title": {"text": "C-2) Taking antidepressants–Females", "offset": 10.1},
  "encoding": {
   "x": {"field": "age", "type": "quantitative", "scale": {"domain": [58.785, 101.316], "nice": false, "zero": false}, "axis": {"values": [60,70,80,90,100], "title": "Age", "labelPadding": 8, "titlePadding": 14}},
   "y": {"field": "value", "type": "quantitative", "scale": {"domain": [0.0359, 0.1243], "nice": false, "zero": false}, "axis": {"values": [0.04,0.06,0.08,0.1,0.12], "labelExpr": "datum.value == 0 ? '0' : substring(format(datum.value, '.2~f'), 1)", "title": "Proportion", "titlePadding": 10, "labelPadding": 5}}
  },
  "layer": [
   {"transform": [{"filter": "datum.series !== 'Observed'"}],
    "mark": {"type": "point", "opacity": 1, "strokeWidth": 1.2},
    "encoding": {
     "shape": {"field": "series", "type": "nominal", "scale": {"domain": ["Observed","DRR=1","DRR=2"], "range": ["M-1.6,-0.56H10.6V0.56H-1.6Z","circle","triangle-up"]}, "legend": {"title": null, "offset": 16, "labelExpr": "datum.label == 'Observed' ? '\u200b\u00a0\u00a0\u00a0\u00a0\u00a0\u00a0\u00a0\u00a0Observed' : datum.label"}},
     "fill": {"field": "series", "type": "nominal", "scale": {"domain": ["Observed","DRR=1","DRR=2"], "range": ["#90353B","transparent","#90353B"]}, "legend": {"title": null, "offset": 16, "labelExpr": "datum.label == 'Observed' ? '\u200b\u00a0\u00a0\u00a0\u00a0\u00a0\u00a0\u00a0\u00a0Observed' : datum.label"}},
     "stroke": {"field": "series", "type": "nominal", "scale": {"domain": ["Observed","DRR=1","DRR=2"], "range": ["#90353B","#90353B","#90353B"]}, "legend": {"title": null, "offset": 16, "labelExpr": "datum.label == 'Observed' ? '\u200b\u00a0\u00a0\u00a0\u00a0\u00a0\u00a0\u00a0\u00a0Observed' : datum.label"}},
     "size": {"field": "series", "type": "nominal", "scale": {"type": "ordinal", "domain": ["Observed","DRR=1","DRR=2"], "range": [90,70,110]}, "legend": {"title": null, "offset": 16, "labelExpr": "datum.label == 'Observed' ? '\u200b\u00a0\u00a0\u00a0\u00a0\u00a0\u00a0\u00a0\u00a0Observed' : datum.label"}}
    }},
   {"transform": [{"filter": "datum.series === 'Observed'"}],
    "mark": {"type": "line", "color": "#90353B", "strokeWidth": 4.5, "strokeCap": "round", "strokeJoin": "round"},
    "encoding": {}}
  ]}
 ]}
],
"config": {
 "font": "Liberation Sans",
 "view": {"fill": "white", "stroke": null},
 "axis": {"domainColor": "#1a1a1a", "domainWidth": 1.8, "tickColor": "#1a1a1a", "tickWidth": 1.6, "tickSize": 7, "labelFontSize": 20, "labelColor": "#111", "labelFont": "Liberation Sans", "titleFont": "Liberation Sans", "titleFontSize": 20.5, "titleFontWeight": "normal", "titleColor": "#111", "labelFlush": false, "labelOverlap": false},
 "axisX": {"grid": false},
 "axisY": {"grid": true, "gridColor": "#E8F0F2", "gridWidth": 1.6, "labelAngle": -90, "labelAlign": "center", "labelBaseline": "bottom"},
 "legend": {"orient": "bottom", "direction": "horizontal", "strokeColor": "#1a1a1a", "strokeWidth": 1.5, "fillColor": "white", "padding": 7, "labelFontSize": 20.5, "labelFont": "Liberation Sans", "labelColor": "#111", "labelOffset": 2, "columnPadding": 26.5, "symbolOffset": 0, "labelLimit": 300, "layout": {"bottom": {"anchor": "middle"}}},
 "title": {"font": "Liberation Sans", "fontSize": 21, "fontWeight": "normal", "color": "#111", "frame": "group", "anchor": "middle", "offset": 12, "lineHeight": 24}
}
}
